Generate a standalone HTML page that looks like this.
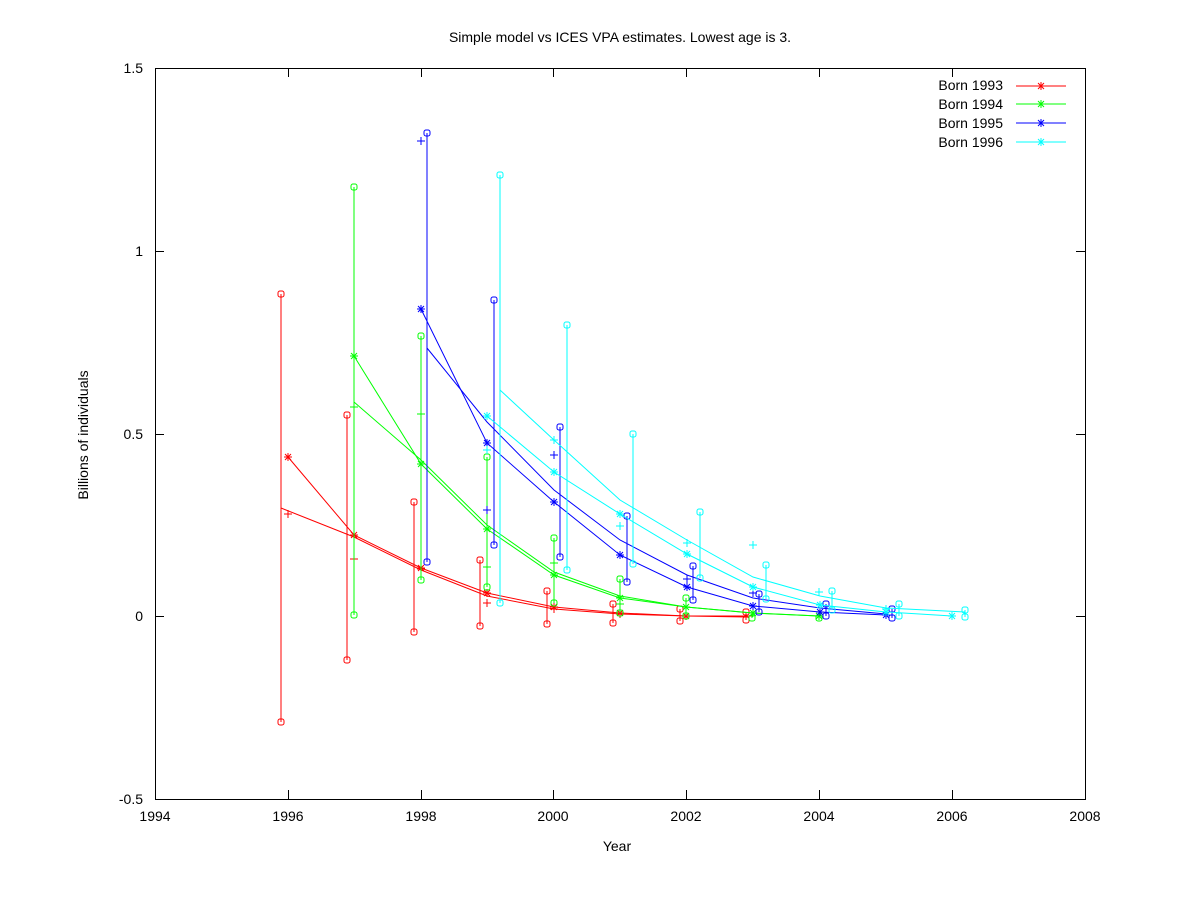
<!DOCTYPE html>
<html><head><meta charset="utf-8"><style>
html,body{margin:0;padding:0;background:#fff;}
svg{display:block;font-family:"Liberation Sans",sans-serif;}
</style></head><body>
<svg width="1200" height="900" viewBox="0 0 1200 900" xmlns="http://www.w3.org/2000/svg">
<defs>
<g id="st" stroke-width="1"><path d="M-4,0H4M0,-4V4M-3,-3L3,3M-3,3L3,-3"/></g>
<g id="pl" stroke-width="1"><path d="M-4,0H4M0,-4V4"/></g>
<g id="ci" stroke-width="1" fill="none"><rect x="-3" y="-3" width="6" height="6" rx="2"/></g>
</defs>
<rect width="1200" height="900" fill="#fff"/>
<text x="620" y="42" font-size="14" text-anchor="middle">Simple model vs ICES VPA estimates. Lowest age is 3.</text>
<g stroke="#000" stroke-width="1" fill="none">
<rect x="155.5" y="68.5" width="930" height="731"/>
<path d="M155,251.5h9M1085,251.5h-9M155,434.5h9M1085,434.5h-9M155,616.5h9M1085,616.5h-9
M288.5,799v-9M288.5,68v9M421.5,799v-9M421.5,68v9M553.5,799v-9M553.5,68v9M686.5,799v-9M686.5,68v9M819.5,799v-9M819.5,68v9M952.5,799v-9M952.5,68v9"/>
</g>
<g font-size="14" text-anchor="end">
<text x="143" y="73">1.5</text><text x="143" y="256">1</text><text x="143" y="439">0.5</text><text x="143" y="621">0</text><text x="143" y="804">-0.5</text>
</g>
<g font-size="14" text-anchor="middle">
<text x="155" y="821">1994</text><text x="288" y="821">1996</text><text x="421" y="821">1998</text><text x="553" y="821">2000</text><text x="686" y="821">2002</text><text x="819" y="821">2004</text><text x="952" y="821">2006</text><text x="1085" y="821">2008</text>
<text x="617" y="851">Year</text>
<text transform="translate(88,435) rotate(-90)">Billions of individuals</text>
</g>
<g font-size="14" text-anchor="end">
<text x="1003" y="90">Born 1993</text><text x="1003" y="109">Born 1994</text><text x="1003" y="128">Born 1995</text><text x="1003" y="147">Born 1996</text>
</g>
<path d="M1016,86H1066" stroke="#f00"/><use href="#st" x="1041" y="86" stroke="#f00"/>
<path d="M1016,104H1066" stroke="#0f0"/><use href="#st" x="1041" y="104" stroke="#0f0"/>
<path d="M1016,123H1066" stroke="#00f"/><use href="#st" x="1041" y="123" stroke="#00f"/>
<path d="M1016,142H1066" stroke="#0ff"/><use href="#st" x="1041" y="142" stroke="#0ff"/>

<g stroke="#f00" fill="none">
<path d="M288,457L354,535L421,568L487,593L554,607L620,613L686,616L753,616"/>
<path d="M281,508L354,537L421,570L487,596L554,609L620,614L686,616L746,617"/>
<path d="M281,294V722M347,415V660M414,502V632M480,560V626M547,591V624M613,604V623M680,609V621M746,612V620"/>
</g>
<g stroke="#f00">
<use href="#st" x="288" y="457"/><use href="#st" x="354" y="535"/><use href="#st" x="421" y="568"/><use href="#st" x="487" y="593"/><use href="#st" x="554" y="607"/><use href="#st" x="620" y="613"/><use href="#st" x="686" y="616"/>
<use href="#pl" x="288" y="514"/><use href="#pl" x="354" y="559"/><use href="#pl" x="421" y="569"/><use href="#pl" x="487" y="603"/><use href="#pl" x="554" y="609"/><use href="#pl" x="620" y="614"/>
<use href="#ci" x="281" y="294"/><use href="#ci" x="281" y="722"/><use href="#ci" x="347" y="415"/><use href="#ci" x="347" y="660"/><use href="#ci" x="414" y="502"/><use href="#ci" x="414" y="632"/><use href="#ci" x="480" y="560"/><use href="#ci" x="480" y="626"/><use href="#ci" x="547" y="591"/><use href="#ci" x="547" y="624"/><use href="#ci" x="613" y="604"/><use href="#ci" x="613" y="623"/><use href="#ci" x="680" y="609"/><use href="#ci" x="680" y="621"/><use href="#ci" x="746" y="612"/><use href="#ci" x="746" y="620"/>
</g>

<g stroke="#0f0" fill="none">
<path d="M354,356L421,464L487,529L554,575L620,598L686,607L753,613L819,616"/>
<path d="M354,402L421,460L487,525L554,572L620,596L686,607L752,613L819,616"/>
<path d="M354,187V615M421,336V580M487,457V587M554,538V603M620,579V613M686,598V616M752,612V618M819,615V618"/>
</g>
<g stroke="#0f0">
<use href="#st" x="354" y="356"/><use href="#st" x="421" y="464"/><use href="#st" x="487" y="529"/><use href="#st" x="554" y="575"/><use href="#st" x="620" y="598"/><use href="#st" x="686" y="607"/><use href="#st" x="753" y="613"/><use href="#st" x="819" y="616"/>
<use href="#pl" x="354" y="407"/><use href="#pl" x="421" y="414"/><use href="#pl" x="487" y="567"/><use href="#pl" x="554" y="563"/><use href="#pl" x="620" y="604"/>
<use href="#ci" x="354" y="187"/><use href="#ci" x="354" y="615"/><use href="#ci" x="421" y="336"/><use href="#ci" x="421" y="580"/><use href="#ci" x="487" y="457"/><use href="#ci" x="487" y="587"/><use href="#ci" x="554" y="538"/><use href="#ci" x="554" y="603"/><use href="#ci" x="620" y="579"/><use href="#ci" x="620" y="613"/><use href="#ci" x="686" y="598"/><use href="#ci" x="686" y="616"/><use href="#ci" x="752" y="618"/><use href="#ci" x="819" y="618"/>
</g>

<g stroke="#00f" fill="none">
<path d="M421,309L487,443L554,502L620,555L687,587L753,606L820,612L886,615"/>
<path d="M427,348L487,422L554,490L620,540L687,575L753,598L820,608L886,614"/>
<path d="M427,133V562M494,300V545M560,427V557M627,516V582M693,566V600M759,594V612M826,604V616M892,609V618"/>
</g>
<g stroke="#00f">
<use href="#st" x="421" y="309"/><use href="#st" x="487" y="443"/><use href="#st" x="554" y="502"/><use href="#st" x="620" y="555"/><use href="#st" x="687" y="587"/><use href="#st" x="753" y="606"/><use href="#st" x="820" y="612"/><use href="#st" x="886" y="615"/>
<use href="#pl" x="421" y="141"/><use href="#pl" x="487" y="510"/><use href="#pl" x="554" y="455"/><use href="#pl" x="620" y="555"/><use href="#pl" x="687" y="579"/><use href="#pl" x="753" y="593"/>
<use href="#ci" x="427" y="133"/><use href="#ci" x="427" y="562"/><use href="#ci" x="494" y="300"/><use href="#ci" x="494" y="545"/><use href="#ci" x="560" y="427"/><use href="#ci" x="560" y="557"/><use href="#ci" x="627" y="516"/><use href="#ci" x="627" y="582"/><use href="#ci" x="693" y="566"/><use href="#ci" x="693" y="600"/><use href="#ci" x="759" y="594"/><use href="#ci" x="759" y="612"/><use href="#ci" x="826" y="604"/><use href="#ci" x="826" y="616"/><use href="#ci" x="892" y="609"/><use href="#ci" x="892" y="618"/>
</g>

<g stroke="#0ff" fill="none">
<path d="M487,416L554,472L620,514L687,554L753,587L820,605L886,612L952,616"/>
<path d="M500,390L554,440L620,500L687,540L753,577L820,596L886,608L965,612"/>
<path d="M500,175V603M567,325V570M633,434V564M700,512V578M766,565V599M832,591V610M899,604V616M965,610V617"/>
</g>
<g stroke="#0ff">
<use href="#st" x="487" y="416"/><use href="#st" x="554" y="472"/><use href="#st" x="620" y="514"/><use href="#st" x="687" y="554"/><use href="#st" x="753" y="587"/><use href="#st" x="820" y="605"/><use href="#st" x="886" y="612"/><use href="#st" x="952" y="616"/>
<use href="#pl" x="487" y="450"/><use href="#pl" x="554" y="440"/><use href="#pl" x="620" y="526"/><use href="#pl" x="687" y="543"/><use href="#pl" x="753" y="545"/><use href="#pl" x="819" y="592"/><use href="#pl" x="886" y="609"/><use href="#pl" x="952" y="616"/>
<use href="#ci" x="500" y="175"/><use href="#ci" x="500" y="603"/><use href="#ci" x="567" y="325"/><use href="#ci" x="567" y="570"/><use href="#ci" x="633" y="434"/><use href="#ci" x="633" y="564"/><use href="#ci" x="700" y="512"/><use href="#ci" x="700" y="578"/><use href="#ci" x="766" y="565"/><use href="#ci" x="766" y="599"/><use href="#ci" x="832" y="591"/><use href="#ci" x="832" y="610"/><use href="#ci" x="899" y="604"/><use href="#ci" x="899" y="616"/><use href="#ci" x="965" y="610"/><use href="#ci" x="965" y="617"/>
</g>
</svg>
</body></html>
